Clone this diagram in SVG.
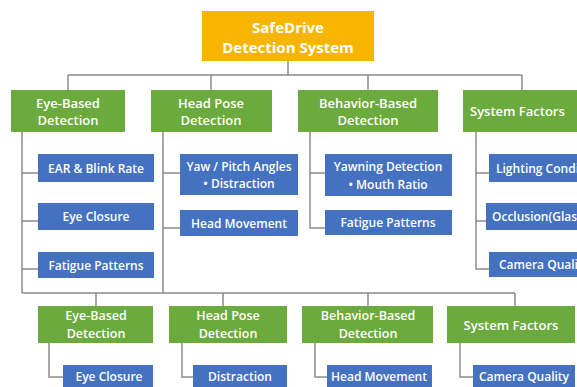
<svg xmlns="http://www.w3.org/2000/svg" width="577" height="387" viewBox="0 0 577 387">
<style>
.bg{fill:#ffffff}
.root{fill:#F7B500}
.g{fill:#6BAA3C}
.b{fill:#4471C0}
.c{fill:none;stroke:#8c8c8c;stroke-width:1.5}
text{fill:#ffffff;font-family:"Open Sans","Noto Sans","Liberation Sans",sans-serif;dominant-baseline:central;text-anchor:middle}
.tr{font-size:15px;font-weight:700}
.tg{font-size:13px;font-weight:600}
.tl{font-size:12.5px;font-weight:600}
.tb{font-size:12px;font-weight:600}
.ts{text-anchor:start}
</style>
<rect class="bg" x="0" y="0" width="577" height="387"/>
<g id="connectors">
<path class="c" d="M288,61 V75 M68,75 H522 M68,75 V90 M211,75 V90 M368,75 V90 M522,75 V90"/>
<path class="c" d="M22,132 V293 M22,173 H38 M22,221 H38 M22,269 H38"/>
<path class="c" d="M163,132 V293 M163,173 H180 M163,228 H180"/>
<path class="c" d="M310,132 V228 H325 M310,173 H325"/>
<path class="c" d="M476,132 V269 H489 M476,173 H489 M476,221 H489"/>
<path class="c" d="M22,293 H515 M96,293 V306 M223,293 V306 M368,293 V306 M515,293 V306"/>
<path class="c" d="M49,343 V377 H63 M182,343 V377 H193 M315,343 V377 H327 M460,343 V377 H473"/>
</g>
<g id="root">
<rect class="root" x="202" y="11" width="172" height="50"/>
<text class="tr" x="288" y="27">SafeDrive</text>
<text class="tr" x="288" y="47">Detection System</text>
</g>
<g id="eye">
<rect class="g" x="11" y="90" width="114" height="42"/>
<text class="tg" x="68" y="103">Eye-Based</text>
<text class="tg" x="68" y="120">Detection</text>
</g>
<g id="head">
<rect class="g" x="151" y="90" width="121" height="42"/>
<text class="tg" x="211" y="103">Head Pose</text>
<text class="tg" x="211" y="120">Detection</text>
</g>
<g id="behavior">
<rect class="g" x="298" y="90" width="140" height="42"/>
<text class="tg" x="368" y="103">Behavior-Based</text>
<text class="tg" x="368" y="120">Detection</text>
</g>
<g id="system">
<rect class="g" x="463" y="90" width="124" height="42"/>
<text class="tg ts" x="470" y="111">System Factors</text>
</g>
<g id="ear">
<rect class="b" x="38" y="154" width="116" height="28"/>
<text class="tb" x="96" y="168">EAR &amp; Blink Rate</text>
</g>
<g id="eyeclosure">
<rect class="b" x="38" y="203" width="116" height="27"/>
<text class="tb" x="96" y="216">Eye Closure</text>
</g>
<g id="fatigue1">
<rect class="b" x="38" y="252" width="116" height="26"/>
<text class="tb" x="96" y="265">Fatigue Patterns</text>
</g>
<g id="yaw">
<rect class="b" x="180" y="154" width="118" height="41"/>
<text class="tb" x="239" y="166">Yaw / Pitch Angles</text>
<text class="tb" x="239" y="183">• Distraction</text>
</g>
<g id="headmove">
<rect class="b" x="180" y="210" width="118" height="26"/>
<text class="tb" x="239" y="223">Head Movement</text>
</g>
<g id="yawning">
<rect class="b" x="325" y="154" width="127" height="42"/>
<text class="tb" x="388" y="166">Yawning Detection</text>
<text class="tb" x="388" y="184">• Mouth Ratio</text>
</g>
<g id="fatigue2">
<rect class="b" x="325" y="210" width="127" height="25"/>
<text class="tb" x="388" y="222">Fatigue Patterns</text>
</g>
<g id="lighting">
<rect class="b" x="489" y="154" width="130" height="28"/>
<text class="tb ts" x="496" y="168">Lighting Conditions</text>
</g>
<g id="occlusion">
<rect class="b" x="486" y="203" width="130" height="27"/>
<text class="tb ts" x="492" y="216">Occlusion(Glasses)</text>
</g>
<g id="camera1">
<rect class="b" x="489" y="252" width="130" height="25"/>
<text class="tb ts" x="499" y="264">Camera Quality</text>
</g>
<g id="eye2">
<rect class="g" x="38" y="306" width="115" height="37"/>
<text class="tl" x="96" y="315">Eye-Based</text>
<text class="tl" x="96" y="333">Detection</text>
</g>
<g id="head2">
<rect class="g" x="169" y="306" width="118" height="37"/>
<text class="tl" x="228" y="315">Head Pose</text>
<text class="tl" x="228" y="333">Detection</text>
</g>
<g id="behavior2">
<rect class="g" x="302" y="306" width="131" height="37"/>
<text class="tl" x="368" y="315">Behavior-Based</text>
<text class="tl" x="368" y="333">Detection</text>
</g>
<g id="system2">
<rect class="g" x="447" y="306" width="128" height="37"/>
<text class="tg" x="511" y="325">System Factors</text>
</g>
<g id="eyeclosure2">
<rect class="b" x="63" y="365" width="90" height="24"/>
<text class="tb" x="109" y="376">Eye Closure</text>
</g>
<g id="distraction2">
<rect class="b" x="193" y="365" width="94" height="24"/>
<text class="tb" x="240" y="376">Distraction</text>
</g>
<g id="headmove2">
<rect class="b" x="327" y="365" width="105" height="24"/>
<text class="tb" x="379" y="376">Head Movement</text>
</g>
<g id="camera2">
<rect class="b" x="473" y="365" width="102" height="24"/>
<text class="tb" x="524" y="376">Camera Quality</text>
</g>
</svg>
